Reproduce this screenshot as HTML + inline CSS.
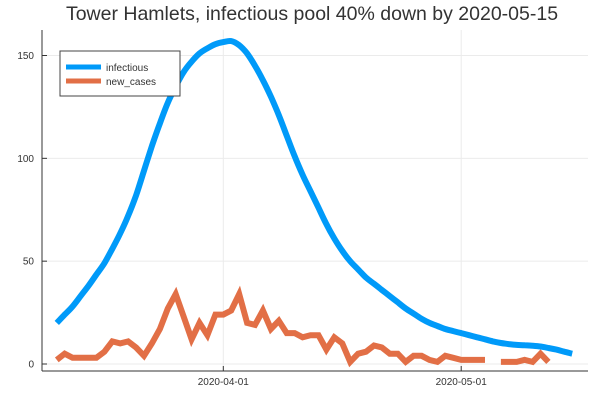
<!DOCTYPE html>
<html><head><meta charset="utf-8"><style>
body{margin:0;background:#fff;}
svg{display:block;font-family:"Liberation Sans",sans-serif;}
</style></head><body>
<svg id="chart" width="600" height="400">
<text x="312" y="20" text-anchor="middle" font-size="19.5" fill="#333">Tower Hamlets, infectious pool 40% down by 2020-05-15</text>
<g id="grid"></g>
<g id="axes"></g>
<g id="series"></g>
<g>
<rect x="60" y="51" width="120" height="45" fill="#fff" stroke="#444" stroke-width="1"/>
<line x1="66" y1="67" x2="101" y2="67" stroke="#009af9" stroke-width="5"/>
<text x="106" y="71" font-size="10" fill="#333">infectious</text>
<line x1="66" y1="81" x2="101" y2="81" stroke="#e26f46" stroke-width="5"/>
<text x="106" y="85" font-size="10" fill="#333">new_cases</text>
</g>
</svg>
<script>
const startDate = "2020-03-11";
const infectious = [20,24,28,33,38,43.5,49,56,63.5,72,82,94,106,117,127,135,142,147,151,153.5,155.5,156.5,157,155,151,145,138,130,121,111,101,92,84,76,68,61,55,50,46,42,39,36,33,30,27,24.5,22,20,18.5,17,16,15,14,13,12,11,10.2,9.7,9.3,9.1,8.9,8.5,7.8,7,6,5];
const newCases = [2,5,3,3,3,3,6,11,10,11,8,4,10,17,27,34,23,12,20,14,24,24,26,34,20,19,26,17,21,15,15,13,14,14,7,13,10,1,5,6,9,8,5,5,1,4,4,2,1,4,3,2,2,2,2,null,1,1,1,2,1,5,1];
const yTicks = [0,50,100,150];
const xTickLabels = ["2020-04-01","2020-05-01"];

const NS="http://www.w3.org/2000/svg";
const X0=42,X1=588,Y0=30,Y1=371;
const dayPx=7.93, refX=223.3;
const ref=Date.parse("2020-04-01");
function dayOf(s){return (Date.parse(s)-ref)/86400000;}
const startDay=dayOf(startDate);
function xs(i){return refX+(startDay+i)*dayPx;}
function xd(s){return refX+dayOf(s)*dayPx;}
function ys(v){return 364-v*(364-55.5)/150;}
function mk(tag,attrs,parent){const e=document.createElementNS(NS,tag);for(const k in attrs)e.setAttribute(k,attrs[k]);parent.appendChild(e);return e;}
const grid=document.getElementById('grid'),axes=document.getElementById('axes'),series=document.getElementById('series');
yTicks.forEach(v=>{
  const l=mk('line',{x1:X0,x2:X1,y1:ys(v),y2:ys(v),stroke:'#ebebeb','stroke-width':1},grid);
  
  
  const t=mk('line',{x1:X0,x2:X0+5,y1:ys(v),y2:ys(v),stroke:'#333'},axes);
  
  
  const tx=mk('text',{x:34,y:ys(v)+3.5,'text-anchor':'end','font-size':'10',fill:'#333'},axes);
  tx.textContent=v;
  
  
});
xTickLabels.forEach(s=>{
  const x=xd(s);
  const l=mk('line',{x1:x,x2:x,y1:Y0,y2:Y1,stroke:'#ebebeb','stroke-width':1},grid);
  
  
  const t=mk('line',{x1:x,x2:x,y1:Y1,y2:Y1-5,stroke:'#333'},axes);
  
  
  const tx=mk('text',{x:x,y:385,'text-anchor':'middle','font-size':'10',fill:'#333'},axes);
  tx.textContent=s;
  
  
});
const ya=mk('line',{x1:X0,x2:X0,y1:Y0,y2:Y1,stroke:'#333','stroke-width':1},axes);


const xa=mk('line',{x1:X0,x2:X1,y1:Y1,y2:Y1,stroke:'#333','stroke-width':1},axes);


function pathFor(arr){let d='',pen=false;arr.forEach((v,i)=>{if(v===null){pen=false;return;}d+=(pen?'L':'M')+xs(i).toFixed(1)+' '+ys(v).toFixed(1);pen=true;});return d;}
function smoothPath(arr){
  const p=arr.map((v,i)=>[xs(i),ys(v)]);
  let d='M'+p[0][0].toFixed(1)+' '+p[0][1].toFixed(1);
  for(let i=0;i<p.length-1;i++){
    const a=p[Math.max(0,i-1)],b=p[i],c=p[i+1],e=p[Math.min(p.length-1,i+2)];
    const c1=[b[0]+(c[0]-a[0])/6,b[1]+(c[1]-a[1])/6];
    const c2=[c[0]-(e[0]-b[0])/6,c[1]-(e[1]-b[1])/6];
    d+='C'+c1[0].toFixed(1)+' '+c1[1].toFixed(1)+' '+c2[0].toFixed(1)+' '+c2[1].toFixed(1)+' '+c[0].toFixed(1)+' '+c[1].toFixed(1);
  }
  return d;
}
const p1=mk('path',{d:smoothPath(infectious),fill:'none',stroke:'#009af9','stroke-width':6,'stroke-linejoin':'round'},series);


const p2=mk('path',{d:pathFor(newCases),fill:'none',stroke:'#e26f46','stroke-width':6,'stroke-linejoin':'miter'},series);


</script>
</body></html>
